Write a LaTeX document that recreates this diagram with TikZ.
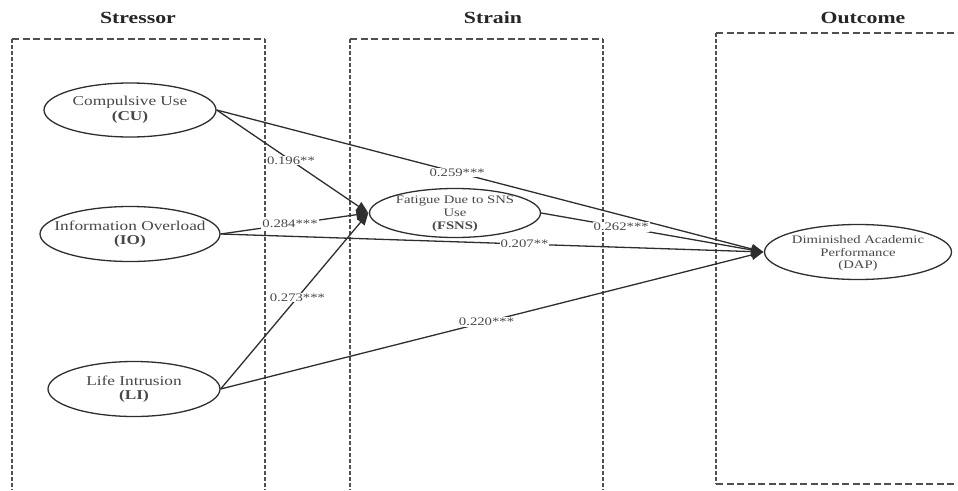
\documentclass[tikz,border=0pt]{standalone}
\usepackage{fontspec}
\setmainfont{Liberation Serif}[FakeStretch=1.28]
\usetikzlibrary{shapes.geometric,arrows.meta}
\definecolor{inkline}{HTML}{2E2E2E}
\definecolor{inktext}{HTML}{474747}
\definecolor{inkbox}{HTML}{505050}
\tikzset{
  construct/.style={ellipse, draw=inkline, line width=1.3pt, inner sep=0pt},
  bigtext/.style={align=center, text=inktext, inner sep=0pt,
    font=\fontsize{13.5}{14.5}\selectfont},
  smalltext/.style={align=center, text=inktext, inner sep=0pt,
    font=\fontsize{11.5}{13}\selectfont},
  coef/.style={fill=white, text=inktext, inner sep=1pt,
    font=\fontsize{11.5}{12}\selectfont},
  heading/.style={text=black!85, inner sep=0pt,
    font=\fontsize{17}{18}\selectfont\bfseries},
  path arrow/.style={draw=inkline, line width=1.3pt,
    -{Triangle[length=12pt,width=10pt]}},
  hedge/.style={draw=inkbox, line width=1.4pt, dash pattern=on 7pt off 3.5pt},
  vedge/.style={draw=inkbox, line width=1.4pt, dash pattern=on 4pt off 2pt},
}
\begin{document}
\begin{tikzpicture}[x=1pt,y=-1pt]
\useasboundingbox (0,0) rectangle (958,490);

% stage headings
\node[heading] (hstress) at (138,18) {Stressor};
\node[heading] (hstrain) at (493,18) {Strain};
\node[heading] (hout) at (863,18) {Outcome};

% dashed stage frames
\coordinate (s1) at (12,39);  \coordinate (s2) at (265,39);
\coordinate (s3) at (12,490); \coordinate (s4) at (265,490);
\draw[hedge] (s1) -- (s2);
\draw[vedge] (s1) -- (s3);
\draw[vedge] (s2) -- (s4);

\coordinate (t1) at (350,39);  \coordinate (t2) at (603,39);
\coordinate (t3) at (350,490); \coordinate (t4) at (603,490);
\draw[hedge] (t1) -- (t2);
\draw[vedge] (t1) -- (t3);
\draw[vedge] (t2) -- (t4);

\coordinate (o1) at (716,33);  \coordinate (o2) at (958,33);
\coordinate (o3) at (716,484); \coordinate (o4) at (958,484);
\draw[hedge] (o1) -- (o2);
\draw[vedge] (o1) -- (o3);
\draw[hedge] (o3) -- (o4);

% constructs
\node[construct, minimum width=172pt, minimum height=54pt] (cu) at (130,110) {};
\node[bigtext] (cutext) at (cu) {Compulsive Use\\\textbf{(CU)}};

\node[construct, minimum width=180pt, minimum height=55pt] (io) at (130,234) {};
\node[bigtext] (iotext) at (io) {Information Overload\\\textbf{(IO)}};

\node[construct, minimum width=172pt, minimum height=55pt] (li) at (134,389) {};
\node[bigtext] (litext) at (li) {Life Intrusion\\\textbf{(LI)}};

\node[construct, minimum width=171pt, minimum height=49pt] (fsns) at (455,213) {};
\node[smalltext] (fsnstext) at (455,213.5) {Fatigue Due to SNS\\Use\\\textbf{(FSNS)}};

\node[construct, minimum width=187pt, minimum height=55pt] (dap) at (858,252) {};
\node[smalltext, font=\fontsize{11.5}{12.5}\selectfont] (daptext) at (858,253.5)
  {Diminished Academic\\Performance\\(DAP)};

% structural paths
\coordinate (fin) at ([xshift=-0.5pt]fsns.west);
\coordinate (din) at ([xshift=-0.5pt]dap.west);

\draw[path arrow] (cu.east) -- node[coef, pos=0.49] (l1) {0.196**} (fin);
\draw[path arrow] (io.east) -- node[coef, pos=0.47] (l2) {0.284***} (fin);
\draw[path arrow] (li.east) -- node[coef, pos=0.52] (l3) {0.273***} (fin);

\draw[path arrow] (cu.east) -- node[coef, pos=0.44] (l4) {0.259***} (din);
\draw[path arrow] (fsns.east) -- node[coef, pos=0.36] (l5) {0.262***} (din);
\draw[path arrow] (io.east) -- node[coef, pos=0.56] (l6) {0.207**} (din);
\draw[path arrow] (li.east) -- node[coef, pos=0.49] (l7) {0.220***} (din);
\end{tikzpicture}
\end{document}
